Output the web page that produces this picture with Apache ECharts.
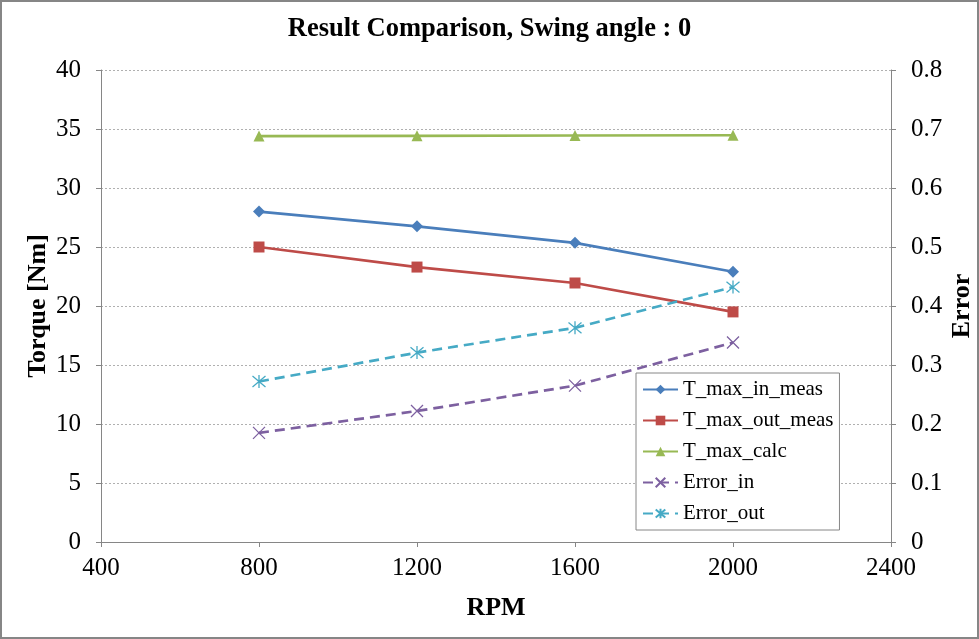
<!DOCTYPE html>
<html><head><meta charset="utf-8">
<script src="https://cdn.jsdelivr.net/npm/echarts@6/dist/echarts.min.js"></script>
<style>html,body{margin:0;padding:0;background:#fff}#c{width:979px;height:639px}</style>
</head><body><div id="c"></div>
<script>
const rpm = [800, 1200, 1600, 2000];
const tMaxInMeas = [28.0, 26.75, 25.35, 22.9];
const tMaxOutMeas = [25.0, 23.3, 21.95, 19.5];
const tMaxCalc = [34.4, 34.42, 34.45, 34.47];
const errorIn = [0.185, 0.222, 0.265, 0.338];
const errorOut = [0.272, 0.321, 0.363, 0.432];
const seriesNames = ['T_max_in_meas', 'T_max_out_meas', 'T_max_calc', 'Error_in', 'Error_out'];

const pair = (xs, ys) => xs.map((x, i) => [x, ys[i]]);
const serif = '"Liberation Serif","Times New Roman",serif';
const axisGray = '#868686';
const xPath = 'path://M0,0L10,10M10,0L0,10';
const starPath = 'path://M0,0L10,10M10,0L0,10M5,-1L5,11';

const chart = echarts.init(document.getElementById('c'));
chart.setOption({
  animation: false,
  backgroundColor: '#fff',
  textStyle: { fontFamily: serif, color: '#000' },
  title: {
    text: 'Result Comparison, Swing angle : 0', left: 'center', top: 11,
    textStyle: { fontFamily: serif, fontWeight: 'bold', fontSize: 26.5, color: '#000' }
  },
  graphic: [{ type: 'rect', shape: { x: 1, y: 1, width: 977, height: 637 },
    style: { fill: 'none', stroke: axisGray, lineWidth: 2 }, silent: true }],
  grid: { left: 101, right: 88, top: 70, bottom: 97, containLabel: false, outerBoundsMode: 'none' },
  legend: {
    data: seriesNames, orient: 'vertical', left: 636, top: 373,
    backgroundColor: '#fff', borderColor: axisGray, borderWidth: 1,
    padding: [6, 6, 6, 6], itemWidth: 35, itemHeight: 12, itemGap: 10,
    textStyle: { fontFamily: serif, fontSize: 21, color: '#000', lineHeight: 21 }
  },
  xAxis: {
    type: 'value', min: 400, max: 2400, interval: 400,
    name: 'RPM', nameLocation: 'middle', nameGap: 53, nameMoveOverlap: false,
    nameTextStyle: { fontFamily: serif, fontWeight: 'bold', fontSize: 26, color: '#000' },
    axisLine: { show: true, lineStyle: { color: axisGray, width: 1 } },
    axisTick: { show: true, length: 5, lineStyle: { color: axisGray } },
    axisLabel: { fontFamily: serif, fontSize: 25, color: '#000', margin: 14,
      formatter: v => String(v) },
    splitLine: { show: false }
  },
  yAxis: [{
    type: 'value', min: 0, max: 40, interval: 5,
    name: 'Torque [Nm]', nameLocation: 'middle', nameGap: 50, nameMoveOverlap: false,
    nameTextStyle: { fontFamily: serif, fontWeight: 'bold', fontSize: 26, color: '#000' },
    axisLine: { show: true, lineStyle: { color: axisGray, width: 1 } },
    axisTick: { show: true, length: 5, lineStyle: { color: axisGray } },
    axisLabel: { fontFamily: serif, fontSize: 25, color: '#000', margin: 20 },
    splitLine: { show: true, lineStyle: { color: '#b0b0b0', type: [2, 2], width: 1 } }
  }, {
    type: 'value', min: 0, max: 0.8, interval: 0.1, position: 'right',
    name: 'Error', nameLocation: 'middle', nameGap: 58, nameMoveOverlap: false,
    nameTextStyle: { fontFamily: serif, fontWeight: 'bold', fontSize: 26, color: '#000' },
    axisLine: { show: true, lineStyle: { color: axisGray, width: 1 } },
    axisTick: { show: true, length: 5, lineStyle: { color: axisGray } },
    axisLabel: { fontFamily: serif, fontSize: 25, color: '#000', margin: 20,
      formatter: v => (Math.round(v * 10) / 10).toString() },
    splitLine: { show: false }
  }],
  series: [
    { name: seriesNames[0], type: 'line', yAxisIndex: 0, data: pair(rpm, tMaxInMeas),
      symbol: 'diamond', symbolSize: 12,
      lineStyle: { color: '#4A7EBB', width: 2.7 }, itemStyle: { color: '#4A7EBB' } },
    { name: seriesNames[1], type: 'line', yAxisIndex: 0, data: pair(rpm, tMaxOutMeas),
      symbol: 'rect', symbolSize: 11,
      lineStyle: { color: '#BE4B48', width: 2.7 }, itemStyle: { color: '#BE4B48' } },
    { name: seriesNames[2], type: 'line', yAxisIndex: 0, data: pair(rpm, tMaxCalc),
      symbol: 'triangle', symbolSize: 11,
      lineStyle: { color: '#98B954', width: 2.7 }, itemStyle: { color: '#98B954' } },
    { name: seriesNames[3], type: 'line', yAxisIndex: 1, data: pair(rpm, errorIn),
      symbol: xPath, symbolSize: 12,
      lineStyle: { color: '#7D60A0', width: 2.7, type: [10, 6] },
      itemStyle: { color: '#7D60A0', borderColor: '#7D60A0', borderWidth: 1.3 } },
    { name: seriesNames[4], type: 'line', yAxisIndex: 1, data: pair(rpm, errorOut),
      symbol: starPath, symbolSize: 13,
      lineStyle: { color: '#46AAC5', width: 2.7, type: [10, 6] },
      itemStyle: { color: '#46AAC5', borderColor: '#46AAC5', borderWidth: 1.3 } }
  ]
});
</script></body></html>
